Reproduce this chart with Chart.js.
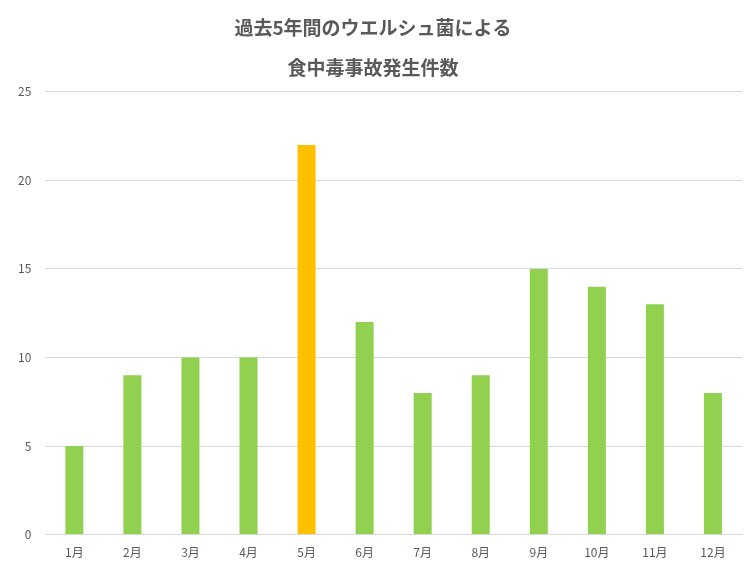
<!DOCTYPE html>
<html><head><meta charset="utf-8">
<script src="https://cdn.jsdelivr.net/npm/chart.js@4"></script>
<style>html,body{margin:0;padding:0;background:#fff}#w{width:756px;height:567px}</style>
</head><body><div id="w"><canvas id="c"></canvas></div>
<script>
const categories=["1月","2月","3月","4月","5月","6月","7月","8月","9月","10月","11月","12月"];
const counts=[5,9,10,10,22,12,8,9,15,14,13,8];
const barColors=["#92D050","#92D050","#92D050","#92D050","#FFC000","#92D050","#92D050","#92D050","#92D050","#92D050","#92D050","#92D050"];
const titleLines=["過去5年間のウエルシュ菌による","食中毒事故発生件数"];
new Chart(document.getElementById('c'),{
type:'bar',
data:{labels:categories,datasets:[{data:counts,backgroundColor:barColors,barPercentage:0.62,categoryPercentage:0.5}]},
options:{responsive:true,maintainAspectRatio:false,animation:false,
layout:{padding:{left:4,right:14,top:8,bottom:4}},
plugins:{legend:{display:false},tooltip:{enabled:false},
title:{display:true,text:titleLines,color:'#595959',font:{family:'Noto Sans CJK JP',size:19,weight:'bold',lineHeight:2.1},padding:{top:0,bottom:4}}},
scales:{
x:{grid:{display:false},border:{color:'#d9d9d9'},ticks:{color:'#595959',font:{family:'Noto Sans CJK JP',size:12}}},
y:{min:0,max:25,ticks:{stepSize:5,color:'#595959',font:{family:'Noto Sans CJK JP',size:12},padding:14},grid:{color:'#d9d9d9',drawTicks:false},border:{display:false}}
}}});
</script></body></html>
